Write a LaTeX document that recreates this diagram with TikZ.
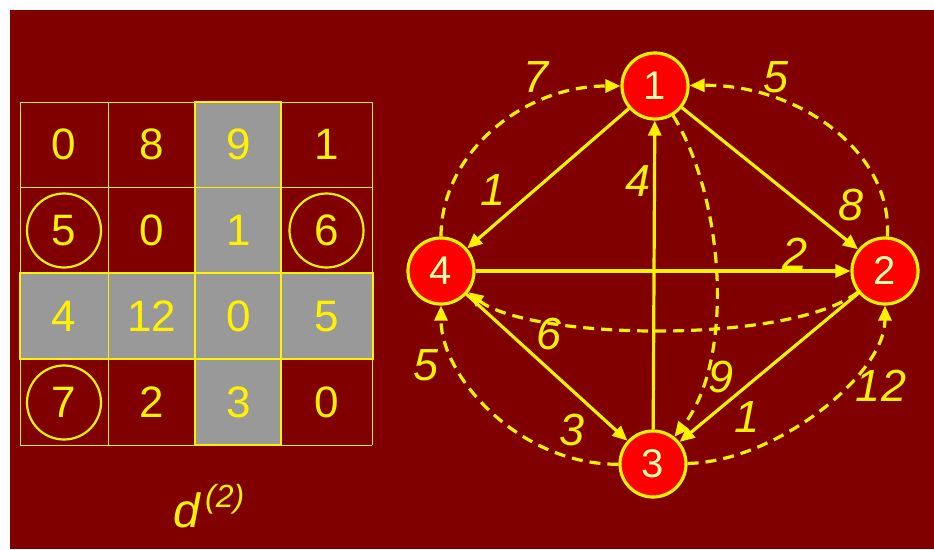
\documentclass[tikz,border=0pt]{standalone}
\usepackage{fontspec}
\setmainfont{Liberation Sans}
\usetikzlibrary{arrows.meta}
\definecolor{maroonbg}{HTML}{800000}
\definecolor{cellgray}{HTML}{999999}
\definecolor{vertextext}{HTML}{FFFFB4}

\begin{document}
\begin{tikzpicture}[x=1pt,y=-1pt,
    vertex/.style={circle,draw=yellow,fill=red,line width=3.2pt,minimum size=66pt,
      inner sep=0pt,text=vertextext,font=\fontsize{40}{40}\selectfont},
    entry/.style={text=yellow,font=\fontsize{44}{44}\selectfont},
    wlabel/.style={text=yellow,font=\fontsize{45}{45}\selectfont\itshape},
    edge/.style={draw=yellow,line width=3.2pt,-{Triangle[length=15pt,width=13pt]}},
    dashedge/.style={edge,dash pattern=on 11pt off 7pt}]

    % Background
    \fill[white] (0,0) rectangle (934,549);
    \fill[maroonbg] (10,10) rectangle (934,549);

    % Matrix d^(2): row 3 and column 3 shaded
    \fill[cellgray] (195,102) rectangle (281,445);
    \fill[cellgray] (20,273) rectangle (373,359);
    \foreach \x in {20,108,195,281,372}
      \draw[yellow,line width=1pt] (\x,102) -- (\x,445);
    \foreach \y in {102,187,273,359,445}
      \draw[yellow,line width=1pt] (20,\y) -- (372,\y);
    \draw[yellow,line width=1.5pt] (195,102) rectangle (281,445);
    \draw[yellow,line width=1.5pt] (20,273) rectangle (373,359);

    \foreach \vals [count=\r] in {{0,8,9,1},{5,0,1,6},{4,12,0,5},{7,2,3,0}}
      \foreach \v [count=\c] in \vals
        \node[entry] (e\r\c) at ({64+87.5*(\c-1)},{144.5+86*(\r-1)}) {\v};

    % Circled entries
    \draw[yellow,line width=2.2pt] (e21) circle[radius=37pt];
    \draw[yellow,line width=2.2pt] (e24) circle[radius=37pt];
    \draw[yellow,line width=2.2pt] (e41) circle[radius=37pt];

    \node[text=yellow,font=\fontsize{48}{48}\selectfont\itshape,anchor=base west]
      (dlabel) at (170,527)
      {d\hspace{5pt}\raisebox{20pt}{\fontsize{32}{32}\selectfont(2)}};

    % Graph
    \node[vertex] (n1) at (655,86) {1};
    \node[vertex] (n2) at (885,271) {2};
    \node[vertex] (n3) at (653,464) {3};
    \node[vertex] (n4) at (441,271) {4};

    % Solid arcs
    \draw[edge] (n1) -- (n4);
    \draw[edge] (n1) -- (n2);
    \draw[edge] (n4) -- (n2);
    \draw[edge] (n3) -- (n1);
    \draw[edge] (n4) -- (n3);
    \draw[edge] (n2) -- (n3);

    % Dashed arcs
    \draw[dashedge] (n4) .. controls (441,154) and (522,86) .. (n1);
    \draw[dashedge] (n2) .. controls (893,152) and (798,84) .. (n1);
    \draw[dashedge] (n2) .. controls (790,345) and (530,340) .. (n4);
    \draw[dashedge] (n1) .. controls (725,200) and (735,360) .. (n3);
    \draw[dashedge] (n3) .. controls (520,465) and (441,377) .. (n4);
    \draw[dashedge] (n3) .. controls (775,462) and (885,375) .. (n2);

    % Weights
    \node[wlabel] (w41) at (536,77) {7};
    \node[wlabel] (w21) at (776,77) {5};
    \node[wlabel] (w14) at (493,190) {1};
    \node[wlabel] (w31) at (638,181) {4};
    \node[wlabel] (w12) at (851,205) {8};
    \node[wlabel] (w42) at (795,254) {2};
    \node[wlabel] (w24) at (549,334) {6};
    \node[wlabel] (w34) at (426,365) {5};
    \node[wlabel] (w13) at (721,377) {9};
    \node[wlabel] (w43) at (572,430) {3};
    \node[wlabel] (w23) at (747,417) {1};
    \node[wlabel] (w32) at (881,386) {12};

    \useasboundingbox (0,0) rectangle (934,549);
  \end{tikzpicture}
\end{document}
